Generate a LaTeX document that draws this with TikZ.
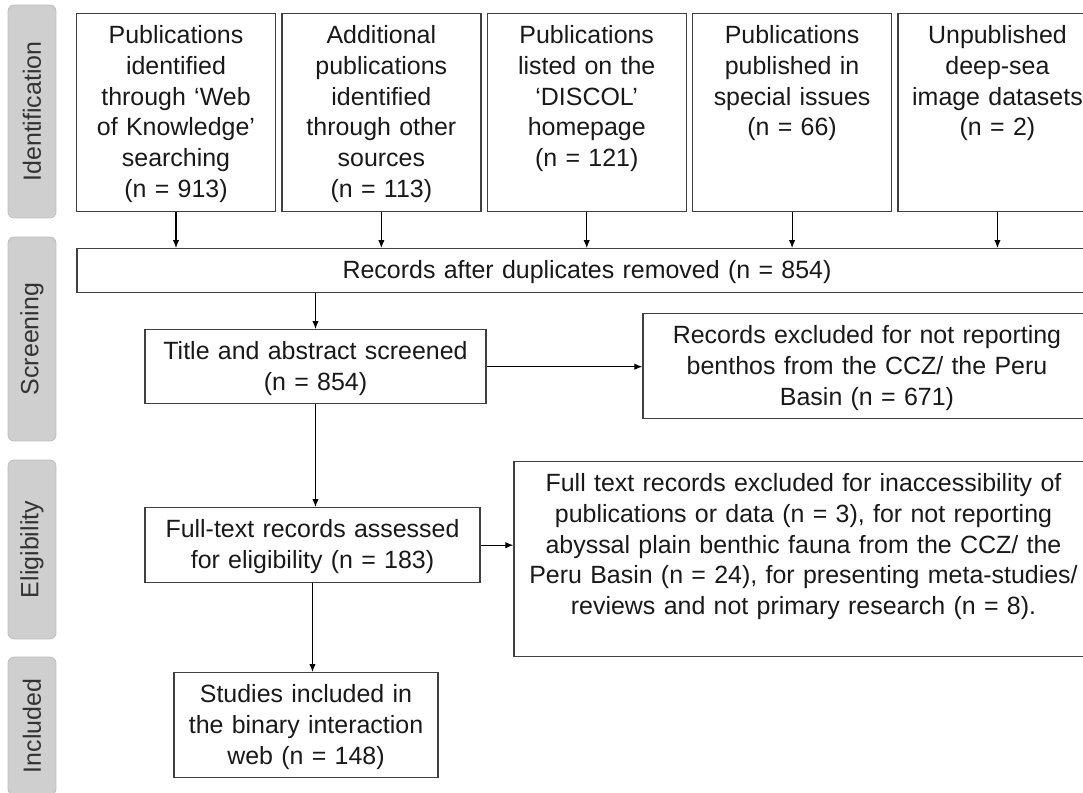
\documentclass[tikz,border=0pt]{standalone}
\usepackage{fontspec}
\setmainfont{Liberation Sans}
\usetikzlibrary{positioning, arrows.meta}

\tikzstyle{stage} = [rectangle, rounded corners=0.12cm, rotate=90, minimum height=0.96cm, inner sep=0pt, fill=black!19, draw=black!27, text=black!80]
\tikzstyle{box} = [rectangle, anchor=north, align=center, inner xsep=0.1cm, inner ysep=0.1cm, text height=0.5cm, draw=black!75, line width=0.8pt, fill=white, text=black!90]
\tikzstyle{topbox} = [box, text width=3.78cm, text depth=3.26cm]
\tikzstyle{arrow} = [line width=0.6pt, -{Latex[length=4.5pt, width=3.6pt]}]

\begin{document}
\begin{tikzpicture}[x=0.02cm, y=-0.02cm, font=\fontsize{14.2}{17.5}\selectfont]

\useasboundingbox (0,0) rectangle (1083,792);
\clip (0,0) rectangle (1083,792);

% stages on the left
\node (ident) [stage, minimum width=4.26cm] at (32,111.5) {Identification};
\node (screen) [stage, minimum width=4.08cm] at (32,339) {Screening};
\node (elig) [stage, minimum width=3.58cm] at (32,549.5) {Eligibility};
\node (incl) [stage, minimum width=2.76cm] at (32,726) {Included};

% sources
\node (pubWoK) [topbox] at (176,13) {Publications\\identified\\through ‘Web\\of Knowledge’\\searching\\(n = 913)};
\node (pubOther) [topbox, right=0.1cm of pubWoK] {Additional\\publications\\identified\\through other\\sources\\(n = 113)};
\node (pubDiscol) [topbox, right=0.1cm of pubOther] {Publications\\listed on the\\‘DISCOL’\\homepage\\(n = 121)};
\node (pubSpecial) [topbox, right=0.1cm of pubDiscol] {Publications\\published in\\special issues\\(n = 66)};
\node (imgData) [topbox, right=0.1cm of pubSpecial] {Unpublished\\deep-sea\\image datasets\\(n = 2)};

\node (records) [box, text width=20.2cm, text depth=0.18cm] at (587,248) {Records after duplicates removed (n = 854)};

\node (title) [box, text width=6.62cm, text depth=0.78cm] at (315.5,329) {Title and abstract screened\\(n = 854)};
\node (recExcl) [box, text width=8.76cm, text depth=1.4cm] at (867,313) {Records excluded for not reporting\\benthos from the CCZ/ the Peru\\Basin (n = 671)};

\node (fullText) [box, text width=6.5cm, text depth=0.8cm] at (312.5,507) {Full-text records assessed\\for eligibility (n = 183)};
\node (ftExcl) [box, text width=11.38cm, text depth=3.2cm] at (803.5,461) {Full text records excluded for inaccessibility of\\publications or data (n = 3), for not reporting\\abyssal plain benthic fauna from the CCZ/ the\\Peru Basin (n = 24), for presenting meta-studies/\\reviews and not primary research (n = 8).};

\node (studies) [box, text width=5.08cm, text depth=1.4cm] at (306,672) {Studies included in\\the binary interaction\\web (n = 148)};

\foreach \src in {pubWoK, pubOther, pubDiscol, pubSpecial, imgData}
  \draw [arrow] (\src.south) -- (\src.south |- records.north);
\draw [arrow] (records.south -| title.north) -- (title.north);
\draw [arrow] (title.east) -- (title.east -| recExcl.west);
\draw [arrow] (title.south) -- (title.south |- fullText.north);
\draw [arrow] (fullText.east) -- (fullText.east -| ftExcl.west);
\draw [arrow] (fullText.south) -- (fullText.south |- studies.north);

\end{tikzpicture}
\end{document}
